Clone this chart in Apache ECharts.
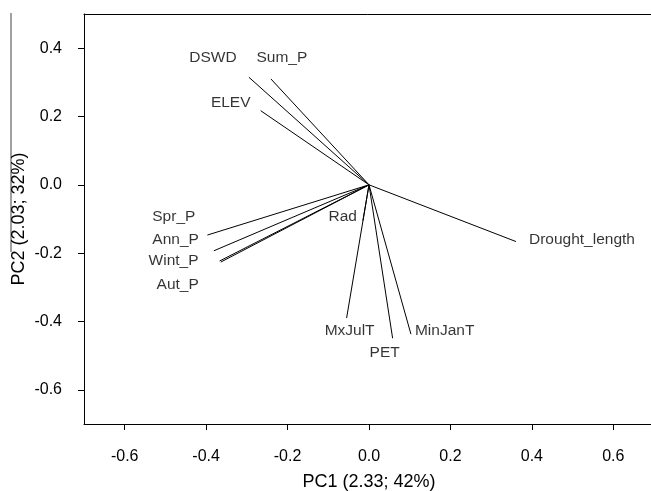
<!DOCTYPE html>
<html>
<head>
<meta charset="utf-8">
<script src="https://cdn.jsdelivr.net/npm/echarts@6/dist/echarts.min.js"></script>
<style>
  html, body { margin: 0; padding: 0; background: #fff; }
  #main { width: 651px; height: 491px; }
</style>
</head>
<body>
<div id="main"></div>
<script>
// PCA loadings (vector tips)
var names = ['DSWD', 'Sum_P', 'ELEV', 'Spr_P', 'Ann_P', 'Wint_P', 'Aut_P', 'Rad', 'Drought_length', 'MxJulT', 'PET', 'MinJanT'];
var pc1 = [-0.295, -0.241, -0.266, -0.397, -0.381, -0.367, -0.364, -0.015, 0.361, -0.055, 0.058, 0.103];
var pc2 = [0.315, 0.310, 0.217, -0.147, -0.193, -0.223, -0.226, -0.105, -0.166, -0.390, -0.449, -0.437];
var xTicks = [-0.6, -0.4, -0.2, 0.0, 0.2, 0.4, 0.6];
var yTicks = [-0.6, -0.4, -0.2, 0.0, 0.2, 0.4];

// label placement next to each tip: [align, dx, dy]
var labelLayout = [
    ['center', -36, -19], ['center', 11, -21], ['center', -30, -8],
    ['right', -12, -18], ['right', -15, -11], ['right', -21, 0], ['right', -22, 23],
    ['right', -6, -4], ['left', 13, -2],
    ['center', 3, 13], ['center', -8, 14], ['left', 4, -3]
];

var font = 'Liberation Sans, Arial, sans-serif';
var myChart = echarts.init(document.getElementById('main'));

var series = [];
for (var i = 0; i < names.length; i++) {
    series.push({
        type: 'line',
        data: [[0, 0], [pc1[i], pc2[i]]],
        symbol: 'none',
        silent: true,
        lineStyle: { color: '#000', width: 1 }
    });
}
series.push({
    type: 'scatter',
    symbolSize: 0,
    silent: true,
    data: names.map(function (n, i) {
        return {
            name: n,
            value: [pc1[i], pc2[i]],
            label: {
                show: true,
                position: 'inside',
                align: labelLayout[i][0],
                verticalAlign: 'middle',
                offset: [labelLayout[i][1], labelLayout[i][2]],
                formatter: n,
                color: '#000',
                fontSize: 15.5,
                fontFamily: font
            }
        };
    })
});

function fmt(v) {
    return v.toFixed(1);
}

var option = {
    backgroundColor: '#fff',
    animation: false,
    grid: { left: 84, top: 14, bottom: 67, right: -3, outerBoundsMode: 'none', containLabel: false },
    xAxis: [{
        type: 'value',
        min: -0.7,
        max: 0.7,
        interval: 0.1,
        name: 'PC1 (2.33; 42%)',
        nameLocation: 'middle',
        nameGap: 49,
        nameMoveOverlap: false,
        nameTextStyle: { fontSize: 18, color: '#000', fontFamily: font },
        axisLine: { show: true, onZero: false, lineStyle: { color: '#000', width: 1 } },
        axisTick: {
            show: true, length: 6, lineStyle: { color: '#000' },
            customValues: xTicks
        },
        axisLabel: {
            fontSize: 16, color: '#000', fontFamily: font, margin: 25,
            customValues: xTicks,
            formatter: fmt
        },
        splitLine: { show: false }
    }, {
        type: 'value',
        position: 'top',
        min: -0.7,
        max: 0.7,
        axisLine: { show: true, onZero: false, lineStyle: { color: '#000', width: 1 } },
        axisTick: { show: false },
        axisLabel: { show: false },
        splitLine: { show: false }
    }],
    yAxis: [{
        type: 'value',
        min: -0.7,
        max: 0.5,
        interval: 0.1,
        name: 'PC2 (2.03; 32%)',
        nameLocation: 'middle',
        nameGap: 56,
        nameMoveOverlap: false,
        nameTextStyle: { fontSize: 18, color: '#000', fontFamily: font },
        axisLine: { show: true, onZero: false, lineStyle: { color: '#000', width: 1 } },
        axisTick: {
            show: true, length: 6, lineStyle: { color: '#000' },
            customValues: yTicks
        },
        axisLabel: {
            fontSize: 16, color: '#000', fontFamily: font, margin: 22,
            customValues: yTicks,
            formatter: fmt
        },
        splitLine: { show: false }
    }],
    graphic: [{
        type: 'line',
        shape: { x1: 11, y1: 13, x2: 11, y2: 252 },
        style: { stroke: '#808080', lineWidth: 1.5 },
        silent: true
    }],
    series: series
};

myChart.setOption(option);
</script>
</body>
</html>
